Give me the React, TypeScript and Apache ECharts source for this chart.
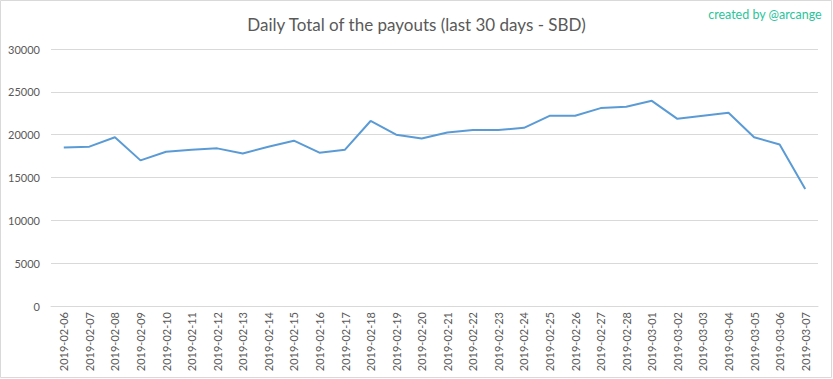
import React, { useEffect, useRef } from "react";
import * as echarts from "echarts";

const dates = [
  "2019-02-06", "2019-02-07", "2019-02-08", "2019-02-09", "2019-02-10",
  "2019-02-11", "2019-02-12", "2019-02-13", "2019-02-14", "2019-02-15",
  "2019-02-16", "2019-02-17", "2019-02-18", "2019-02-19", "2019-02-20",
  "2019-02-21", "2019-02-22", "2019-02-23", "2019-02-24", "2019-02-25",
  "2019-02-26", "2019-02-27", "2019-02-28", "2019-03-01", "2019-03-02",
  "2019-03-03", "2019-03-04", "2019-03-05", "2019-03-06", "2019-03-07",
];

const payouts = [
  18500, 18600, 19700, 17000, 18000,
  18250, 18400, 17800, 18600, 19300,
  17900, 18250, 21600, 20000, 19550,
  20250, 20550, 20550, 20800, 22200,
  22200, 23100, 23250, 23950, 21850,
  22200, 22550, 19700, 18850, 13650,
];

const yTicks = { min: 0, max: 30000, interval: 5000 };

export default function App() {
  const ref = useRef<HTMLDivElement>(null);
  useEffect(() => {
    if (!ref.current) return;
    const chart = echarts.init(ref.current, null, { renderer: "svg" });
    const font = "Lato, 'Noto Sans', sans-serif";
    chart.setOption({
      animation: false,
      backgroundColor: "#ffffff",
      title: {
        text: "Daily Total of the payouts (last 30 days - SBD)",
        left: "center",
        top: 11,
        textStyle: { fontFamily: font, fontSize: 17, fontWeight: "normal", color: "#595959" },
      },
      graphic: [
        {
          type: "rect",
          shape: { x: 0.5, y: 0.5, width: 831, height: 377 },
          style: { fill: "none", stroke: "#d9d9d9", lineWidth: 1 },
          silent: true,
        },
        {
          type: "text",
          right: 11,
          top: 8,
          style: { text: "created by @arcange", fill: "#2bc49b", fontFamily: font, fontSize: 12.5 },
        },
      ],
      grid: { left: 51, right: 15, top: 49, bottom: 73, containLabel: false },
      xAxis: {
        type: "category",
        data: dates,
        boundaryGap: true,
        axisLine: { show: true, lineStyle: { color: "#d9d9d9" } },
        axisTick: { show: false },
        axisLabel: { rotate: 90, color: "#595959", fontFamily: font, fontSize: 11, margin: 6, interval: 0 },
      },
      yAxis: {
        type: "value",
        min: yTicks.min,
        max: yTicks.max,
        interval: yTicks.interval,
        axisLine: { show: false },
        axisTick: { show: false },
        splitLine: { lineStyle: { color: "#d9d9d9" } },
        axisLabel: {
          color: "#595959",
          fontFamily: font,
          fontSize: 11,
          margin: 11,
          formatter: (v: number) => String(v),
        },
      },
      series: [
        {
          type: "line",
          data: payouts,
          showSymbol: false,
          symbol: "none",
          lineStyle: { color: "#5b9bd5", width: 2 },
          itemStyle: { color: "#5b9bd5" },
        },
      ],
    });
    return () => chart.dispose();
  }, []);
  return (
    <div
      ref={ref}
      style={{ position: "fixed", left: 0, top: 0, width: 833, height: 379 }}
    />
  );
}
